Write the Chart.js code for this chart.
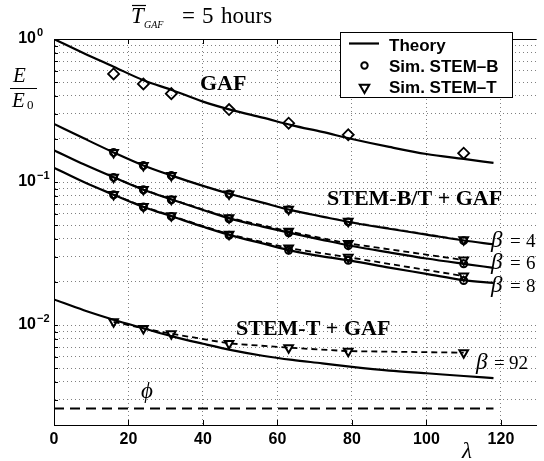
<!DOCTYPE html>
<html><head><meta charset="utf-8">
<script src="https://cdn.jsdelivr.net/npm/chart.js@4.4.0/dist/chart.umd.min.js"></script>
<style>html,body{margin:0;padding:0;background:#fff;}canvas{display:block;}</style>
</head><body>
<canvas id="c" width="544" height="461"></canvas>
<script>
// ---- data ----
const lambdaTheory = [0, 8, 16, 24, 32, 40, 48, 56, 64, 72, 80, 90, 100, 110, 118];
const theoryGAF = [1.0, 0.795, 0.64, 0.515, 0.437, 0.365, 0.317, 0.282, 0.249, 0.224, 0.200, 0.176, 0.157, 0.145, 0.136];
const theoryB4  = [0.255, 0.202, 0.161, 0.1305, 0.110, 0.094, 0.0815, 0.0718, 0.0633, 0.0573, 0.0521, 0.0471, 0.0429, 0.0390, 0.0367];
const theoryB6  = [0.167, 0.133, 0.108, 0.0883, 0.0748, 0.0638, 0.0548, 0.0488, 0.0437, 0.0394, 0.0357, 0.0322, 0.0292, 0.0268, 0.0251];
const theoryB8  = [0.126, 0.100, 0.0815, 0.0669, 0.0571, 0.0487, 0.0420, 0.0372, 0.0330, 0.0302, 0.0281, 0.0252, 0.0228, 0.0206, 0.0197];
const theoryB92 = [0.0151, 0.0127, 0.0109, 0.0095, 0.0083, 0.0074, 0.00665, 0.0061, 0.0057, 0.0054, 0.0051, 0.0048, 0.0046, 0.0044, 0.00426];

const lambdaSim = [16, 24, 31.5, 47, 63, 79, 110];
const simGAF = [0.570, 0.485, 0.415, 0.321, 0.258, 0.214, 0.159];
const simB4  = [0.161, 0.1305, 0.111, 0.0824, 0.0641, 0.0526, 0.0389];
const simB6  = [0.1077, 0.0883, 0.0752, 0.0554, 0.0441, 0.0359, 0.0268];
const simB8  = [0.0815, 0.0669, 0.0575, 0.0424, 0.0333, 0.0284, 0.0205];
const simT4  = [0.161, 0.1305, 0.111, 0.0826, 0.0645, 0.0532, 0.0395];
const simT6  = [0.108, 0.0885, 0.0757, 0.0562, 0.0452, 0.0372, 0.0285];
const simT8  = [0.0818, 0.0674, 0.058, 0.0431, 0.0345, 0.0298, 0.0220];
const simT92 = [0.01054, 0.00947, 0.00869, 0.00744, 0.00694, 0.00657, 0.00641];

const phiLevel = 0.00261;
const phiLambda = [0, 118];

const xTickValues = [0, 20, 40, 60, 80, 100, 120];
const yDecades = [1, 0.1, 0.01];
const yDecadeBase = '10';
const yDecadeExponents = ['0', '\u22121', '\u22122'];
const yMin = 0.002, yMax = 1;
const legendLabels = ['Theory', 'Sim. STEM\u2013B', 'Sim. STEM\u2013T'];

// ---- helpers ----
const pts = (xs, ys) => xs.map((v, i) => ({x: v, y: ys[i]}));
const yGridValues = [];
[0.001, 0.01, 0.1].forEach(d => { for (let m = 1; m <= 9; m++) { const v = +(m * d).toPrecision(3); if (v >= yMin - 1e-12 && v <= yMax + 1e-12) yGridValues.push(v); } });
yGridValues.push(1);

const SERIF = '"Liberation Serif", "Times New Roman", serif';
const SANS = '"Liberation Sans", Arial, sans-serif';

const theoryStyle = {showLine: true, borderColor: '#000', borderWidth: 2.2, pointRadius: 0, cubicInterpolationMode: 'monotone', fill: false};
const triStyle = {showLine: true, borderColor: '#000', borderWidth: 1.8, borderDash: [6, 4], tension: 0,
  pointStyle: 'triangle', rotation: 180, pointRadius: 5, pointBorderWidth: 2, pointBorderColor: '#000', pointBackgroundColor: 'rgba(0,0,0,0)'};
const circStyle = {showLine: false, pointStyle: 'circle', pointRadius: 3.5, pointBorderWidth: 2, pointBorderColor: '#000', pointBackgroundColor: 'rgba(0,0,0,0)'};

const datasets = [
  Object.assign({label: 'Theory GAF', data: pts(lambdaTheory, theoryGAF)}, theoryStyle),
  Object.assign({label: 'Theory β=4', data: pts(lambdaTheory, theoryB4)}, theoryStyle),
  Object.assign({label: 'Theory β=6', data: pts(lambdaTheory, theoryB6)}, theoryStyle),
  Object.assign({label: 'Theory β=8', data: pts(lambdaTheory, theoryB8)}, theoryStyle),
  Object.assign({label: 'Theory β=92', data: pts(lambdaTheory, theoryB92)}, theoryStyle),
  {label: 'Sim. GAF', data: pts(lambdaSim, simGAF), showLine: false, pointStyle: 'rectRot', pointRadius: 5.5,
   pointBorderWidth: 1.8, pointBorderColor: '#000', pointBackgroundColor: 'rgba(0,0,0,0)'},
  Object.assign({label: 'Sim. STEM-B β=4', data: pts(lambdaSim, simB4)}, circStyle),
  Object.assign({label: 'Sim. STEM-B β=6', data: pts(lambdaSim, simB6)}, circStyle),
  Object.assign({label: 'Sim. STEM-B β=8', data: pts(lambdaSim, simB8)}, circStyle),
  Object.assign({label: 'Sim. STEM-T β=4', data: pts(lambdaSim, simT4)}, triStyle, {borderColor: '#777', borderWidth: 1}),
  Object.assign({label: 'Sim. STEM-T β=6', data: pts(lambdaSim, simT6)}, triStyle),
  Object.assign({label: 'Sim. STEM-T β=8', data: pts(lambdaSim, simT8)}, triStyle),
  Object.assign({label: 'Sim. STEM-T β=92', data: pts(lambdaSim, simT92)}, triStyle),
  {label: 'ϕ', data: phiLambda.map(v => ({x: v, y: phiLevel})), showLine: true, borderColor: '#000', borderWidth: 2,
   borderDash: [10, 6], pointRadius: 0}
];

function text(ctx, s, x, y, font, align) {
  ctx.font = font; ctx.textAlign = align || 'left'; ctx.textBaseline = 'alphabetic'; ctx.fillStyle = '#000';
  ctx.fillText(s, x, y);
}

const deco = {
  id: 'deco',
  afterDraw(chart) {
    const {ctx, chartArea: a, scales: {x, y}} = chart;
    ctx.save();
    ctx.strokeStyle = '#000'; ctx.lineWidth = 1;
    // top frame
    ctx.beginPath(); ctx.moveTo(a.left, a.top + 0.5); ctx.lineTo(a.right, a.top + 0.5); ctx.stroke();
    // inward x ticks
    xTickValues.forEach(v => {
      if (v === 0) return;
      const px = Math.round(x.getPixelForValue(v)) + 0.5;
      ctx.beginPath();
      ctx.moveTo(px, a.top); ctx.lineTo(px, a.top + 5);
      ctx.moveTo(px, a.bottom); ctx.lineTo(px, a.bottom - 5);
      ctx.stroke();
    });
    // inward y ticks
    yGridValues.forEach(v => {
      const py = Math.round(y.getPixelForValue(v)) + 0.5;
      ctx.beginPath(); ctx.moveTo(a.left, py); ctx.lineTo(a.left + 4, py); ctx.stroke();
    });
    // superscript exponents for y labels
    const xr = a.left - y.options.ticks.padding;
    yDecades.forEach((v, i) => {
      const py = y.getPixelForValue(v);
      text(ctx, yDecadeExponents[i], xr + 1, py - 3, 'bold 11px ' + SANS, 'left');
    });

    // title: T̄_GAF = 5 hours
    text(ctx, 'T', 131, 23, 'italic 23px ' + SERIF);
    ctx.beginPath(); ctx.lineWidth = 1.2; ctx.moveTo(132, 5.5); ctx.lineTo(146, 5.5); ctx.stroke();
    text(ctx, 'GAF', 144, 28, 'italic 10px ' + SERIF);
    text(ctx, '=', 182, 23, '23px ' + SERIF);
    text(ctx, '5', 202, 23, '23px ' + SERIF);
    text(ctx, 'hours', 221, 23, '23px ' + SERIF);

    // y-axis label E / E0
    text(ctx, 'E', 13, 82, 'italic 21px ' + SERIF);
    ctx.beginPath(); ctx.lineWidth = 1; ctx.moveTo(10, 88.5); ctx.lineTo(37, 88.5); ctx.stroke();
    text(ctx, 'E', 12, 107, 'italic 21px ' + SERIF);
    text(ctx, '0', 27, 109, '13px ' + SERIF);

    // x-axis label
    text(ctx, 'λ', 467, 458, 'italic 23px ' + SERIF, 'center');

    // annotations
    text(ctx, 'GAF', 200, 90, 'bold 22px ' + SERIF);
    text(ctx, 'STEM-B/T + GAF', 327, 205, 'bold 22px ' + SERIF);
    text(ctx, 'STEM-T + GAF', 236, 335, 'bold 22px ' + SERIF);
    const beta = (num, bx, by) => {
      text(ctx, 'β', bx, by, 'italic 23px ' + SERIF);
      text(ctx, '=', bx + 19, by, '19px ' + SERIF);
      text(ctx, num, bx + 35, by, '19px ' + SERIF);
    };
    beta('4', 491, 247);
    beta('6', 491, 269);
    beta('8', 491, 292);
    text(ctx, 'β', 476, 369, 'italic 23px ' + SERIF);
    text(ctx, '=', 494, 369, '19px ' + SERIF);
    text(ctx, '92', 509, 369, '19px ' + SERIF);
    text(ctx, 'ϕ', 147, 398, 'italic 23px ' + SERIF, 'center');

    // legend
    const bx = 340, by = 32.5, bw = 172, bh = 65;
    ctx.fillStyle = '#fff'; ctx.fillRect(bx, by, bw, bh);
    ctx.strokeStyle = '#000'; ctx.lineWidth = 1; ctx.strokeRect(bx + 0.5, by, bw, bh);
    ctx.beginPath(); ctx.lineWidth = 2.2; ctx.moveTo(349, 43.5); ctx.lineTo(379, 43.5); ctx.stroke();
    ctx.lineWidth = 2; ctx.fillStyle = 'rgba(0,0,0,0)';
    Chart.helpers.drawPoint(ctx, {pointStyle: 'circle', radius: 3.2, borderWidth: 2, rotation: 0}, 364.5, 65.5);
    Chart.helpers.drawPoint(ctx, {pointStyle: 'triangle', radius: 5.5, borderWidth: 2, rotation: 180}, 364.5, 87.5);
    text(ctx, legendLabels[0], 389, 50.5, 'bold 17px ' + SANS);
    text(ctx, legendLabels[1], 389, 71.5, 'bold 17px ' + SANS);
    text(ctx, legendLabels[2], 389, 92.5, 'bold 17px ' + SANS);
    ctx.restore();
  }
};

new Chart(document.getElementById('c'), {
  type: 'scatter',
  data: {datasets},
  options: {
    responsive: false, animation: false, devicePixelRatio: 1, events: [],
    layout: {padding: {top: 39, left: 0, right: 0, bottom: 0}},
    plugins: {legend: {display: false}, tooltip: {enabled: false}, title: {display: false}},
    scales: {
      x: {
        type: 'linear', min: 0, max: 129.6,
        afterBuildTicks: s => { s.ticks = xTickValues.map(v => ({value: v})); },
        afterFit: s => { s.height = 36; },
        ticks: {autoSkip: false, maxRotation: 0, padding: 5, color: '#000', font: {family: SANS, size: 16, weight: 'bold'}},
        grid: {color: '#808080', lineWidth: 1, drawTicks: false},
        border: {display: true, color: '#000', width: 1, dash: [1, 3]}
      },
      y: {
        type: 'logarithmic', min: yMin, max: yMax,
        afterBuildTicks: s => { s.ticks = yGridValues.map(v => ({value: v, major: yDecades.includes(v)})); },
        afterFit: s => { s.width = 54; },
        ticks: {autoSkip: false, padding: 18, color: '#000', font: {family: SANS, size: 16, weight: 'bold'},
          callback: v => (yDecades.some(d => Math.abs(d - v) < 1e-9) ? yDecadeBase : '')},
        grid: {color: '#808080', lineWidth: 1, drawTicks: false},
        border: {display: true, color: '#000', width: 1, dash: [1, 3]}
      }
    }
  },
  plugins: [deco]
});
</script>
</body></html>
